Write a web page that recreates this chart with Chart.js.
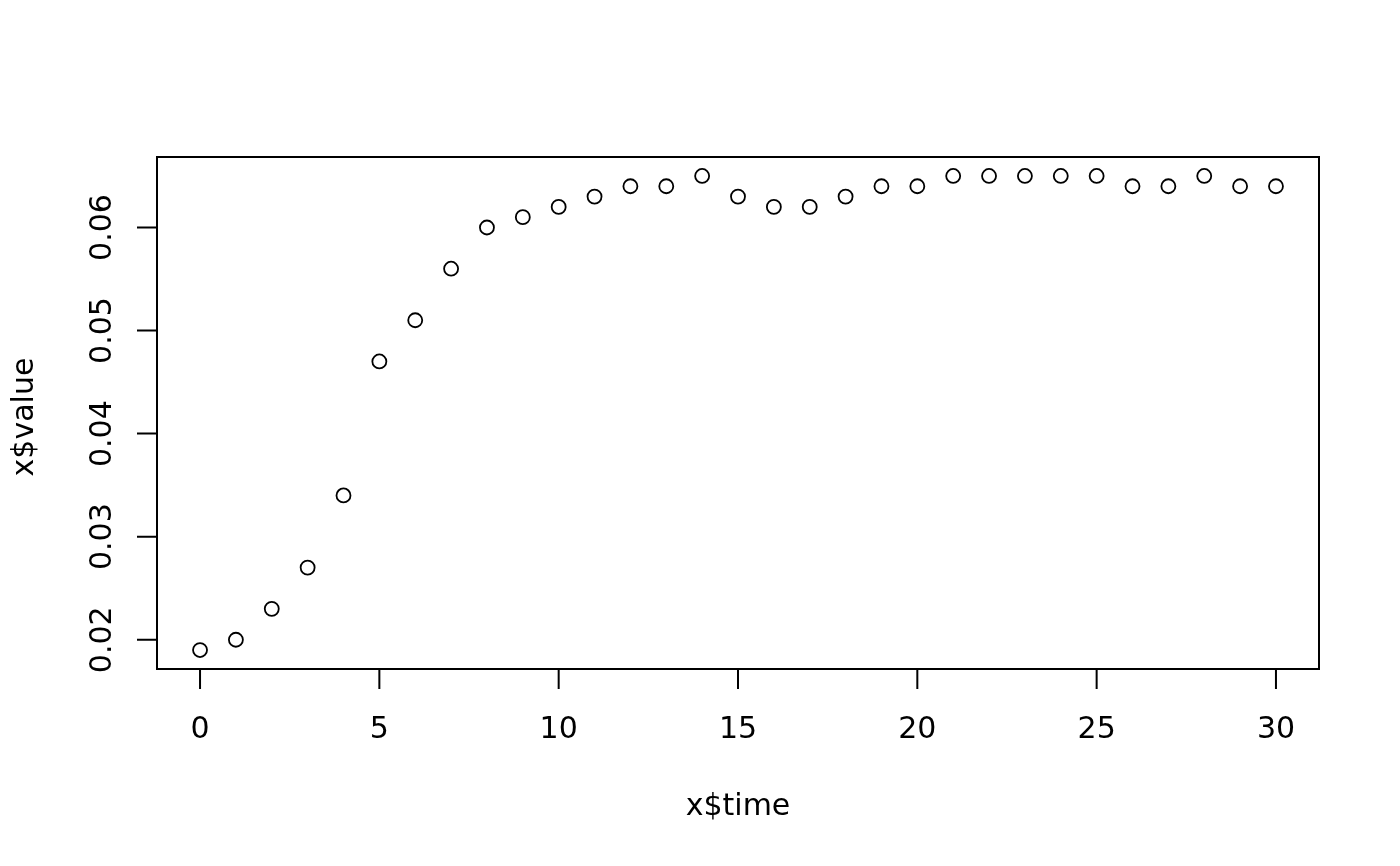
<!DOCTYPE html>
<html>
<head>
<meta charset="utf-8">
<script src="https://cdn.jsdelivr.net/npm/chart.js@4/dist/chart.umd.min.js"></script>
<style>
  html, body { margin: 0; padding: 0; background: #fff; }
  #wrap { width: 1400px; height: 866px; }
</style>
</head>
<body>
<div id="wrap"><canvas id="c" width="1400" height="866"></canvas></div>
<script>
// data
const times = [0, 1, 2, 3, 4, 5, 6, 7, 8, 9, 10, 11, 12, 13, 14, 15,
               16, 17, 18, 19, 20, 21, 22, 23, 24, 25, 26, 27, 28, 29, 30];
const values = [0.019, 0.020, 0.023, 0.027, 0.034, 0.047, 0.051, 0.056, 0.060, 0.061,
                0.062, 0.063, 0.064, 0.064, 0.065, 0.063, 0.062, 0.062, 0.063, 0.064,
                0.064, 0.065, 0.065, 0.065, 0.065, 0.065, 0.064, 0.064, 0.065, 0.064, 0.064];
const xTicks = [0, 5, 10, 15, 20, 25, 30];
const yTicks = [0.02, 0.03, 0.04, 0.05, 0.06];
const xTitle = "x$time";
const yTitle = "x$value";

// R-style 4% range extension
const pad = (lo, hi) => { const d = (hi - lo) * 0.04; return [lo - d, hi + d]; };
const [xMin, xMax] = pad(Math.min(...times), Math.max(...times));
const [yMin, yMax] = pad(Math.min(...values), Math.max(...values));

const FONT = '30px "DejaVu Sans", sans-serif';

// base-graphics axes: box, outward ticks, labels, titles
const rAxes = {
  id: "rAxes",
  afterDraw(chart) {
    const { ctx, chartArea: a } = chart;
    const xs = chart.scales.x, ys = chart.scales.y;
    ctx.save();
    ctx.strokeStyle = "#000";
    ctx.fillStyle = "#000";
    ctx.lineWidth = 2;
    ctx.strokeRect(a.left, a.top, a.right - a.left, a.bottom - a.top);
    ctx.font = FONT;
    ctx.textAlign = "center";
    ctx.textBaseline = "alphabetic";

    // x axis
    ctx.beginPath();
    const x0 = xs.getPixelForValue(xTicks[0]), x1 = xs.getPixelForValue(xTicks[xTicks.length - 1]);
    ctx.moveTo(x0, a.bottom); ctx.lineTo(x1, a.bottom);
    xTicks.forEach((t) => {
      const px = xs.getPixelForValue(t);
      ctx.moveTo(px, a.bottom); ctx.lineTo(px, a.bottom + 20);
    });
    ctx.stroke();
    xTicks.forEach((t) => ctx.fillText(String(t), xs.getPixelForValue(t), a.bottom + 69));
    ctx.fillText(xTitle, (a.left + a.right) / 2, a.bottom + 146);

    // y axis
    ctx.beginPath();
    const y0 = ys.getPixelForValue(yTicks[0]), y1 = ys.getPixelForValue(yTicks[yTicks.length - 1]);
    ctx.moveTo(a.left, y0); ctx.lineTo(a.left, y1);
    yTicks.forEach((t) => {
      const py = ys.getPixelForValue(t);
      ctx.moveTo(a.left, py); ctx.lineTo(a.left - 20, py);
    });
    ctx.stroke();
    yTicks.forEach((t) => {
      ctx.save();
      ctx.translate(a.left - 46, ys.getPixelForValue(t));
      ctx.rotate(-Math.PI / 2);
      ctx.fillText(t.toFixed(2), 0, 0);
      ctx.restore();
    });
    ctx.save();
    ctx.translate(a.left - 124, (a.top + a.bottom) / 2 + 4);
    ctx.rotate(-Math.PI / 2);
    ctx.fillText(yTitle, 0, 0);
    ctx.restore();
    ctx.restore();
  }
};

new Chart(document.getElementById("c"), {
  type: "scatter",
  data: {
    datasets: [{
      data: times.map((t, i) => ({ x: t, y: values[i] })),
      pointStyle: "circle",
      pointRadius: 7,
      pointBorderWidth: 1.8,
      pointBorderColor: "#000",
      pointBackgroundColor: "rgba(0,0,0,0)",
      showLine: false
    }]
  },
  options: {
    responsive: false,
    animation: false,
    layout: { padding: { left: 157, right: 81, top: 157, bottom: 197 } },
    scales: {
      x: { type: "linear", min: xMin, max: xMax, display: false },
      y: { type: "linear", min: yMin, max: yMax, display: false }
    },
    plugins: { legend: { display: false }, tooltip: { enabled: false } }
  },
  plugins: [rAxes]
});
</script>
</body>
</html>
